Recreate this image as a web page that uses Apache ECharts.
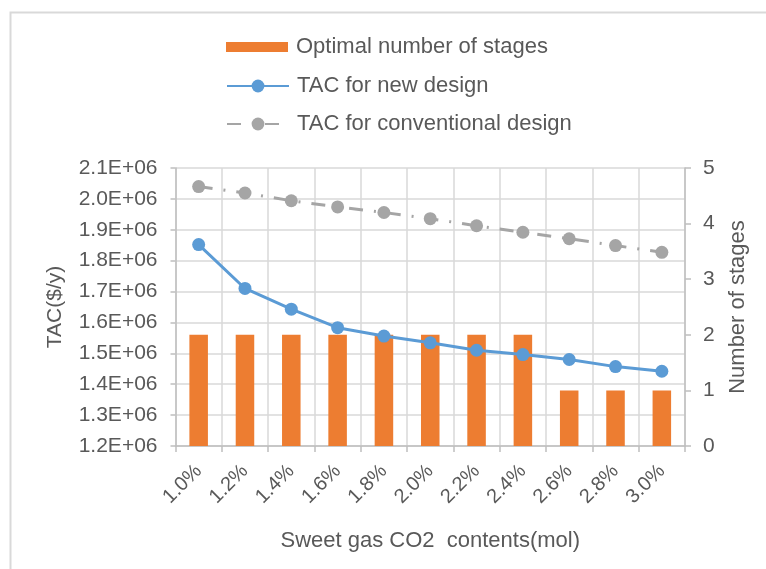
<!DOCTYPE html>
<html>
<head>
<meta charset="utf-8">
<script src="https://cdn.jsdelivr.net/npm/echarts@6/dist/echarts.min.js"></script>
<style>
  html, body { margin: 0; padding: 0; background: #fff; }
  #chart { width: 766px; height: 569px; }
</style>
</head>
<body>
<div id="chart"></div>
<script>
// CO2 content of the sweet gas (mol fraction)
const categories = ['1.0%', '1.2%', '1.4%', '1.6%', '1.8%', '2.0%', '2.2%', '2.4%', '2.6%', '2.8%', '3.0%'];
// Optimal number of stages (right axis)
const optimalStages = [2, 2, 2, 2, 2, 2, 2, 2, 1, 1, 1];
// Total annual cost, $/y (left axis)
const tacNewDesign = [1852000, 1710000, 1643000, 1583000, 1556000, 1534000, 1510000, 1496000, 1480000, 1457000, 1442000];
const tacConventional = [2040000, 2019000, 1994000, 1974000, 1956000, 1936000, 1913000, 1892000, 1871000, 1849000, 1827000];

const FONT = "'Liberation Sans', Arial, sans-serif";
const TEXT = '#595959';
const GRID = '#d9d9d9';
const AXIS = '#bfbfbf';

const chart = echarts.init(document.getElementById('chart'), null, { renderer: 'canvas' });

chart.setOption({
  animation: false,
  backgroundColor: '#fff',
  textStyle: { fontFamily: FONT, color: TEXT },
  graphic: [{
    type: 'rect',
    silent: true,
    z: -10,
    shape: { x: 10.5, y: 12.5, width: 800, height: 600 },
    style: { fill: 'none', stroke: GRID, lineWidth: 2 }
  }],
  legend: [{
    data: [{ name: 'Optimal number of stages', icon: 'rect' }],
    left: 226, top: 36, padding: 0,
    itemWidth: 62, itemHeight: 10,
    textStyle: { fontFamily: FONT, fontSize: 22, color: TEXT, padding: [0, 0, 0, 3] }
  }, {
    data: ['TAC for new design', 'TAC for conventional design'],
    orient: 'vertical',
    left: 226, top: 75, padding: 0,
    itemWidth: 62, itemHeight: 16, itemGap: 16,
    textStyle: { fontFamily: FONT, fontSize: 22, color: TEXT, padding: [0, 0, 0, 3] }
  }],
  grid: { left: 175.5, right: 81, top: 168, bottom: 123, containLabel: false },
  xAxis: {
    type: 'category',
    data: categories,
    boundaryGap: true,
    name: 'Sweet gas CO2  contents(mol)',
    nameLocation: 'middle',
    nameGap: 84,
    nameTextStyle: { fontFamily: FONT, fontSize: 22, color: TEXT },
    axisLine: { lineStyle: { color: AXIS, width: 1.5 } },
    axisTick: { show: true, length: 6, lineStyle: { color: AXIS, width: 1.5 } },
    axisLabel: { rotate: 45, margin: 22, fontFamily: FONT, fontSize: 20, color: TEXT },
    splitLine: { show: true, lineStyle: { color: GRID, width: 1.5 } }
  },
  yAxis: [{
    type: 'value',
    min: 1200000, max: 2100000, interval: 100000,
    name: 'TAC($/y)',
    nameLocation: 'middle',
    nameGap: 110,
    nameTextStyle: { fontFamily: FONT, fontSize: 21, color: TEXT },
    axisLine: { show: true, lineStyle: { color: AXIS, width: 1.5 } },
    axisTick: { show: true, length: 5, lineStyle: { color: AXIS, width: 1.5 } },
    axisLabel: {
      margin: 18, fontFamily: FONT, fontSize: 21, color: TEXT,
      formatter: v => (v / 1e6).toFixed(1) + 'E+06'
    },
    splitLine: { show: true, lineStyle: { color: GRID, width: 1.5 } }
  }, {
    type: 'value',
    min: 0, max: 5, interval: 1,
    position: 'right',
    name: 'Number of stages',
    nameLocation: 'middle',
    nameGap: 42,
    nameTextStyle: { fontFamily: FONT, fontSize: 22, color: TEXT },
    axisLine: { show: true, lineStyle: { color: AXIS, width: 1.5 } },
    axisTick: { show: true, length: 6, lineStyle: { color: AXIS, width: 1.5 } },
    axisLabel: { margin: 18, fontFamily: FONT, fontSize: 21, color: TEXT },
    splitLine: { show: false }
  }],
  series: [{
    name: 'Optimal number of stages',
    type: 'bar',
    yAxisIndex: 1,
    data: optimalStages,
    barWidth: '40%',
    itemStyle: { color: '#ed7d31' },
    z: 1
  }, {
    name: 'TAC for new design',
    type: 'line',
    yAxisIndex: 0,
    data: tacNewDesign,
    symbol: 'circle',
    symbolSize: 13,
    itemStyle: { color: '#5b9bd5' },
    lineStyle: { color: '#5b9bd5', width: 3 },
    z: 3
  }, {
    name: 'TAC for conventional design',
    type: 'line',
    yAxisIndex: 0,
    data: tacConventional,
    symbol: 'circle',
    symbolSize: 13,
    itemStyle: { color: '#a5a5a5' },
    lineStyle: { color: '#a5a5a5', width: 3, type: [14, 11, 2, 11] },
    z: 2
  }]
});
</script>
</body>
</html>
